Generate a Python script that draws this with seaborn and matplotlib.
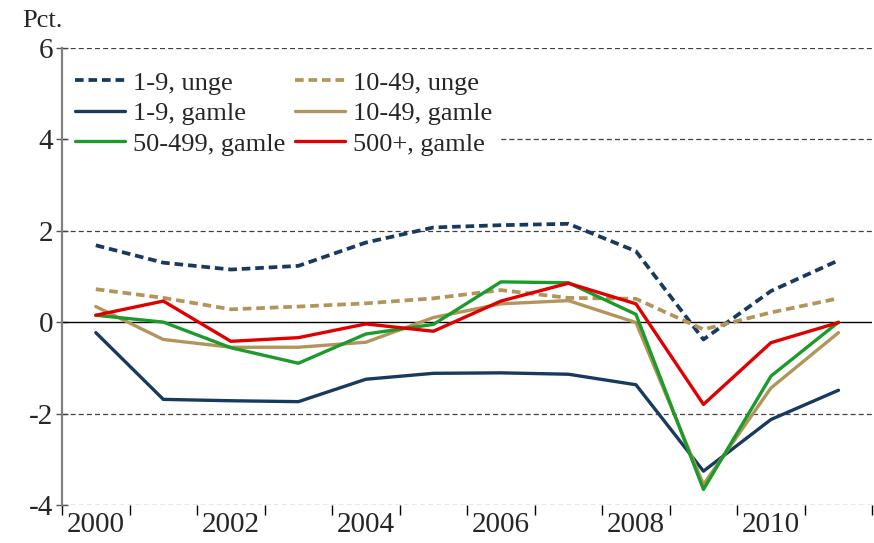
import matplotlib
matplotlib.use("Agg")
import matplotlib.pyplot as plt
import matplotlib.ticker as ticker
import numpy as np
import pandas as pd
import seaborn as sns

years = list(range(2000, 2012))

small_young = [1.68, 1.30, 1.15, 1.23, 1.74, 2.07, 2.12, 2.15, 1.55, -0.38, 0.68, 1.35]
mid_young = [0.72, 0.53, 0.28, 0.34, 0.41, 0.52, 0.70, 0.53, 0.51, -0.16, 0.21, 0.52]
small_old = [-0.23, -1.69, -1.72, -1.74, -1.25, -1.12, -1.11, -1.14, -1.37, -3.26, -2.13, -1.49]
mid_old = [0.34, -0.38, -0.55, -0.55, -0.44, 0.10, 0.40, 0.47, -0.01, -3.55, -1.44, -0.23]
large_old = [0.15, 0.00, -0.56, -0.90, -0.26, -0.05, 0.88, 0.86, 0.17, -3.66, -1.18, 0.00]
xl_old = [0.15, 0.46, -0.42, -0.34, -0.04, -0.20, 0.46, 0.85, 0.40, -1.80, -0.45, -0.01]

labels = ["1-9, unge", "10-49, unge", "1-9, gamle", "10-49, gamle", "50-499, gamle", "500+, gamle"]
series = [small_young, mid_young, small_old, mid_old, large_old, xl_old]

navy = "#173a5e"
tan = "#b2955a"
green = "#1c9a2c"
red = "#e00000"
colors = [navy, tan, navy, tan, green, red]
dashed = [True, True, False, False, False, False]

sns.set_style("white")
plt.rcParams["font.family"] = ["Liberation Serif", "DejaVu Serif"]
plt.rcParams["axes.unicode_minus"] = False

fig = plt.figure(figsize=(8.74, 5.43), dpi=100)
ax = fig.add_axes([0.071, 0.070, 0.927, 0.842])

# gridlines
for yv in [-4, -2, 2, 4, 6]:
    ax.axhline(yv, color="#404040", lw=0.9, ls=(0, (4, 2.5)), zorder=1)
ax.axhline(0, color="black", lw=1.0, zorder=1)

for lab, vals, col, dash in zip(labels, series, colors, dashed):
    df = pd.DataFrame({"year": years, "value": vals})
    sns.lineplot(data=df, x="year", y="value", color=col, lw=2.7 if dash else 2.4,
                 label=lab, ax=ax, zorder=3)
    if dash:
        ax.lines[-1].set_dashes((2.3, 1.3))

ax.set_xlim(1999.5, 2011.5)
ax.set_ylim(-4, 6)
ax.set_xlabel("")
ax.set_ylabel("")

ax.xaxis.set_major_locator(ticker.FixedLocator([2000, 2002, 2004, 2006, 2008, 2010]))
ax.xaxis.set_minor_locator(ticker.FixedLocator(np.arange(1999.5, 2011.6, 1.0)))
ax.tick_params(axis="x", which="major", length=0, labelsize=21, pad=5)
ax.tick_params(axis="x", which="minor", length=7, width=1, color="black", direction="out", bottom=True)
ax.set_yticks([-4, -2, 0, 2, 4, 6])
ax.tick_params(axis="y", length=9, width=1, color="#555555", direction="inout", labelsize=21, pad=2, left=True)

for side in ["top", "right", "bottom"]:
    ax.spines[side].set_visible(False)
ax.spines["left"].set_color("#808080")
ax.spines["left"].set_linewidth(1.6)

# legend filled row by row, as in the original
handles, labs = ax.get_legend_handles_labels()
order = [0, 2, 4, 1, 3, 5]
leg = ax.legend([handles[i] for i in order], [labs[i] for i in order],
                loc="upper left", ncol=2, bbox_to_anchor=(0.0, 0.978), frameon=True,
                fontsize=19, handlelength=1.9, handletextpad=0.3, columnspacing=0.35,
                labelspacing=0.27, borderpad=0.2, borderaxespad=0.3)
leg.get_frame().set_facecolor("white")
leg.get_frame().set_edgecolor("white")
leg.get_frame().set_alpha(1)
leg.set_zorder(5)

fig.text(0.025, 0.982, "Pct.", fontsize=19, va="top", ha="left")

fig.savefig("out.png", dpi=100)
